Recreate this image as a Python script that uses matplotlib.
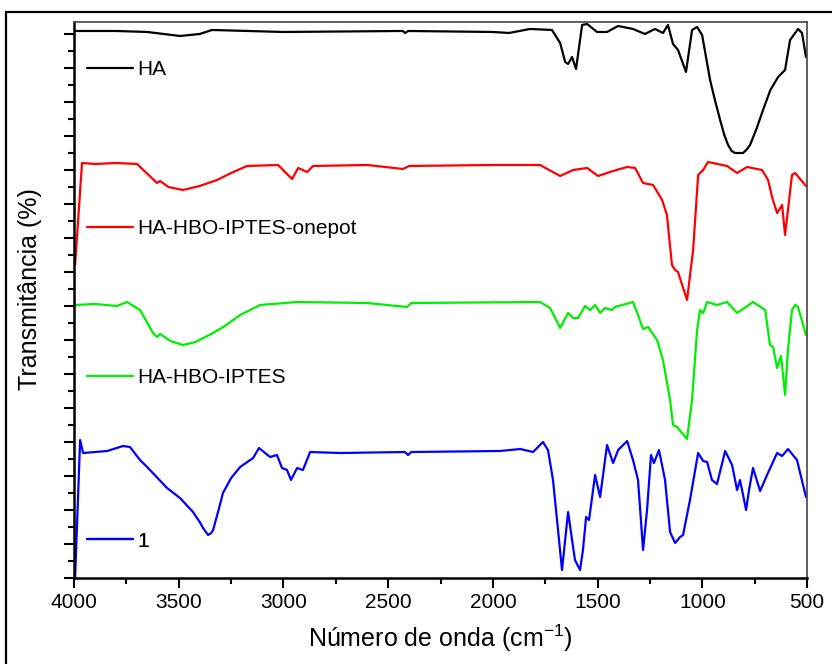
import matplotlib.pyplot as plt
from matplotlib.patches import Rectangle
from matplotlib.ticker import MultipleLocator, NullFormatter

plt.rcParams['font.family'] = ['Liberation Sans', 'DejaVu Sans']
plt.rcParams['mathtext.default'] = 'regular'

# HA (black)
ha_wn = [4000, 3800, 3650, 3494, 3400, 3341, 3000, 2430, 2419, 2405, 2000, 1923, 1823,
         1718, 1679, 1655, 1641, 1622, 1603, 1574, 1550, 1503, 1455, 1402, 1331, 1274,
         1226, 1188, 1164, 1140, 1116, 1078, 1049, 1025, 1001, 963, 940, 915, 895, 877,
         860, 844, 806, 790, 772, 740, 710, 675, 638, 605, 581, 543, 524, 505]
ha_t = [547, 547, 546, 542, 544, 548, 546, 547, 545, 547, 546, 545, 549,
        548, 535, 516, 514, 521, 509, 553, 554, 546, 546, 552, 549, 544,
        549, 545, 553, 534, 528, 506, 548, 551, 543, 498, 478, 458, 443, 433,
        427, 425, 425, 428, 433, 450, 468, 488, 501, 508, 538, 549, 545, 521]

# HA-HBO-IPTES-onepot (red)
onepot_wn = [3995, 3962, 3900, 3800, 3699, 3604, 3589, 3550, 3480, 3400, 3317, 3250,
             3174, 3026, 2959, 2930, 2887, 2859, 2600, 2429, 2400, 2000, 1775, 1679,
             1617, 1550, 1498, 1426, 1359, 1321, 1283, 1235, 1192, 1169, 1145, 1130,
             1116, 1073, 1044, 1020, 996, 973, 882, 834, 786, 715, 686, 667, 643, 619,
             605, 591, 572, 557, 505]
onepot_t = [313, 415, 414, 415, 414, 395, 397, 391, 388, 392, 398, 405,
            412, 413, 399, 410, 406, 412, 413, 409, 412, 413, 413, 402,
            408, 410, 402, 407, 411, 410, 395, 393, 378, 363, 313, 308,
            306, 278, 328, 403, 408, 416, 412, 405, 411, 408, 398, 381, 365, 373,
            343, 368, 403, 405, 392]

# HA-HBO-IPTES (green)
iptes_wn = [3995, 3900, 3795, 3747, 3685, 3623, 3604, 3589, 3540, 3480, 3420, 3336,
            3280, 3207, 3112, 2935, 2600, 2410, 2390, 1775, 1727, 1679, 1641, 1617,
            1593, 1560, 1536, 1512, 1488, 1465, 1431, 1417, 1331, 1307, 1283, 1259,
            1216, 1188, 1154, 1140, 1121, 1073, 1049, 1025, 1011, 996, 977, 930, 882,
            834, 806, 758, 700, 677, 662, 643, 624, 605, 591, 572, 557, 543, 505]
iptes_t = [273, 274, 272, 276, 268, 245, 241, 244, 237, 233, 236, 245,
           252, 263, 273, 276, 275, 271, 275, 276, 270, 250, 265, 260,
           260, 272, 268, 273, 265, 270, 268, 271, 276, 263, 249, 251,
           238, 218, 178, 153, 151, 139, 178, 248, 268, 265, 276, 273, 276,
           265, 269, 276, 268, 233, 231, 210, 222, 183, 228, 268, 273, 271, 243]

# 1 (blue)
s1_wn = [3995, 3971, 3957, 3842, 3766, 3733, 3685, 3651, 3556, 3494, 3432, 3400,
         3384, 3360, 3345, 3336, 3310, 3289, 3250, 3207, 3145, 3117, 3064, 3031,
         3007, 2983, 2964, 2935, 2907, 2873, 2730, 2420, 2405, 2390, 1966, 1870,
         1808, 1761, 1737, 1713, 1689, 1670, 1655, 1641, 1622, 1608, 1584, 1570,
         1555, 1541, 1512, 1488, 1455, 1426, 1402, 1359, 1331, 1307, 1283, 1264,
         1245, 1231, 1207, 1178, 1154, 1130, 1106, 1092, 1059, 1020, 996, 977, 954,
         930, 891, 858, 834, 820, 791, 777, 758, 724, 691, 643, 619, 591, 548, 505]
s1_t = [0, 138, 125, 127, 132, 131, 118, 111, 90, 80, 66, 56,
        50, 43, 45, 48, 68, 85, 100, 111, 120, 130, 121, 123,
        110, 108, 98, 110, 108, 126, 125, 126, 123, 126, 127, 129,
        126, 136, 128, 98, 48, 8, 38, 66, 38, 18, 8, 28,
        61, 58, 103, 81, 133, 115, 128, 137, 118, 98, 28, 68,
        123, 115, 128, 98, 46, 35, 41, 43, 78, 125, 117, 116, 98,
        94, 127, 113, 88, 98, 68, 88, 110, 87, 103, 125, 122, 129, 118, 81]

fig = plt.figure(figsize=(8.32, 6.64), dpi=100)
ax = fig.add_axes([0.089, 0.1295, 0.881, 0.8374])

fig.patches.append(Rectangle((0.007, -0.2), 1.2, 1.182, transform=fig.transFigure,
                             fill=False, edgecolor='black', linewidth=1.6))

style = dict(lw=1.6, solid_joinstyle='round', solid_capstyle='round')
lines = []
lines.append(ax.plot(ha_wn, ha_t, color='black', label='HA', **style)[0])
lines.append(ax.plot(onepot_wn, onepot_t, color='#ff0000', label='HA-HBO-IPTES-onepot', **style)[0])
lines.append(ax.plot(iptes_wn, iptes_t, color='#00ee00', label='HA-HBO-IPTES', **style)[0])
lines.append(ax.plot(s1_wn, s1_t, color='#0000ff', label='1', **style)[0])

ax.set_xlim(4000, 500)
ax.set_ylim(0, 556)
ax.xaxis.set_major_locator(MultipleLocator(500))
ax.xaxis.set_minor_locator(MultipleLocator(250))
ax.yaxis.set_major_locator(MultipleLocator(34))
ax.yaxis.set_minor_locator(MultipleLocator(17))
ax.yaxis.set_major_formatter(NullFormatter())

ax.tick_params(axis='both', which='major', direction='out', length=7, width=1.5, labelsize=15)
ax.tick_params(axis='both', which='minor', direction='out', length=4, width=1.5)
ax.tick_params(top=False, right=False, which='both')
for side in ['left', 'bottom']:
    ax.spines[side].set_linewidth(1.8)
for side in ['top', 'right']:
    ax.spines[side].set_linewidth(1.2)
    ax.spines[side].set_color('#444444')

ax.set_xlabel('Número de onda (cm$^{-1}$)', fontsize=18, labelpad=8)
ax.set_ylabel('Transmitância (%)', fontsize=18)
ax.yaxis.set_label_coords(-0.044, 0.52)

legend_y = [0.914, 0.628, 0.360, 0.0665]
for ln, yy in zip(lines, legend_y):
    leg = ax.legend(handles=[ln], loc='center left', bbox_to_anchor=(0.018, yy),
                    frameon=False, fontsize=15, handlelength=2.2, handletextpad=0.2,
                    borderpad=0, borderaxespad=0)
    ax.add_artist(leg)

fig.savefig('out.png', dpi=100)
